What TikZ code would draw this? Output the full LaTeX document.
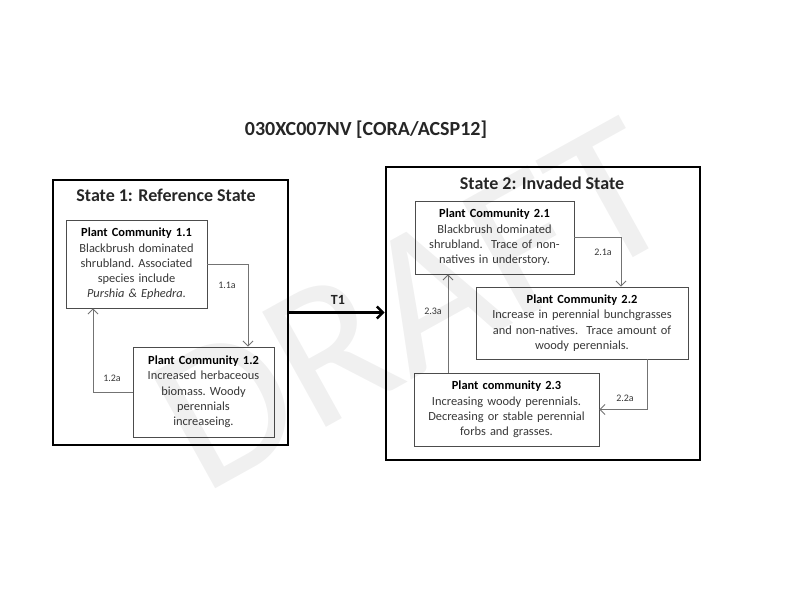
\documentclass[tikz,border=0pt]{standalone}
\usepackage{fontspec}
\setmainfont{Carlito}
\usepackage{xcolor}
\usetikzlibrary{positioning,arrows.meta}

\definecolor{boxgray}{gray}{0.3}
\definecolor{txtgray}{gray}{0.22}
\definecolor{arrgray}{gray}{0.45}

\tikzset{
	statebox/.style={draw=black, line width=2.6pt, inner sep=0pt},
	community/.style={draw=boxgray, line width=0.9pt, fill=white, align=center, inner xsep=2pt, inner ysep=0pt, text=txtgray, font=\fontsize{12.4}{15.3}\selectfont\frenchspacing},
	pathway/.style={draw=arrgray, line width=0.9pt, -{Straight Barb[length=5pt,width=10pt]}},
	pathlabel/.style={text=txtgray, font=\fontsize{10}{12}\selectfont, inner sep=0pt},
	statetitle/.style={font=\fontsize{18}{21}\selectfont\bfseries, text=black!85, inner sep=0pt},
}

\begin{document}
\begin{tikzpicture}[x=1pt, y=-1pt]
		\useasboundingbox (0,0) rectangle (800,600);

		\node[font=\fontsize{20}{24}\selectfont\bfseries, text=black!85, inner sep=0pt] (title) at (366,130) {030XC007NV [CORA/ACSP12]};

		% states
		\node[statebox, minimum width=235pt, minimum height=265pt] (s1) at (170.5,312.5) {};
		\node[statebox, minimum width=314pt, minimum height=293pt] (s2) at (543,313.5) {};
		\node[statetitle] (s1title) at (166,195) {State 1: Reference State};
		\node[statetitle] (s2title) at (542,183) {State 2: Invaded State};

		% plant communities
		\node[community, text width=137pt, minimum height=88pt] (pc11) at (136.5,264)
			{\textbf{\color{black}Plant Community 1.1}\\Blackbrush dominated\\shrubland. Associated\\species include\\\textit{Purshia \& Ephedra.}};
		\node[community, text width=137pt, minimum height=90pt] (pc12) at (203.5,392)
			{\textbf{\color{black}Plant Community 1.2}\\Increased herbaceous\\biomass. Woody\\perennials\\increaseing.};
		\node[community, text width=155pt, minimum height=73pt] (pc21) at (494.5,237.5)
			{\textbf{\color{black}Plant Community 2.1}\\Blackbrush dominated\\shrubland.\ \ Trace of non-\\natives in understory.};
		\node[community, text width=208pt, minimum height=72pt] (pc22) at (582,323)
			{\textbf{\color{black}Plant Community 2.2}\\Increase in perennial bunchgrasses\\and non-natives.\ \ Trace amount of\\woody perennials.};
		\node[community, text width=181pt, minimum height=73pt] (pc23) at (506.5,409.5)
			{\textbf{\color{black}Plant community 2.3}\\Increasing woody perennials.\\Decreasing or stable perennial\\forbs and grasses.};

		% community pathways
		\draw[pathway] (pc11.east) -| ([xshift=44.5pt]pc12.north);
		\draw[pathway] (pc12.west) -| ([xshift=-43.5pt]pc11.south);
		\draw[pathway] (pc21.east) -| ([xshift=39pt]pc22.north);
		\draw[pathway] ([xshift=65pt]pc22.south) |- (pc23.east);
		\draw[pathway] ([xshift=-58.5pt]pc23.north) -- ([xshift=-58.5pt]pc23.north |- pc21.south);

		\node[pathlabel] (l11a) at (227,285) {1.1a};
		\node[pathlabel] (l12a) at (112,378) {1.2a};
		\node[pathlabel] (l21a) at (603,252) {2.1a};
		\node[pathlabel] (l22a) at (625,398) {2.2a};
		\node[pathlabel] (l23a) at (433,311) {2.3a};

		% transition
		\draw[line width=2.6pt, -{Straight Barb[length=6pt,width=12pt]}] (s1.east) -- (s1.east -| s2.west);
		\node[font=\fontsize{14}{17}\selectfont\bfseries, text=black!85, inner sep=0pt] (t1) at (338,300) {T1};

		% watermark
		\node[text=black, text opacity=0.06, font=\fontsize{205}{205}\selectfont, rotate=29, inner sep=0pt] (draft) at (412,305) {DRAFT};
	\end{tikzpicture}
\end{document}
